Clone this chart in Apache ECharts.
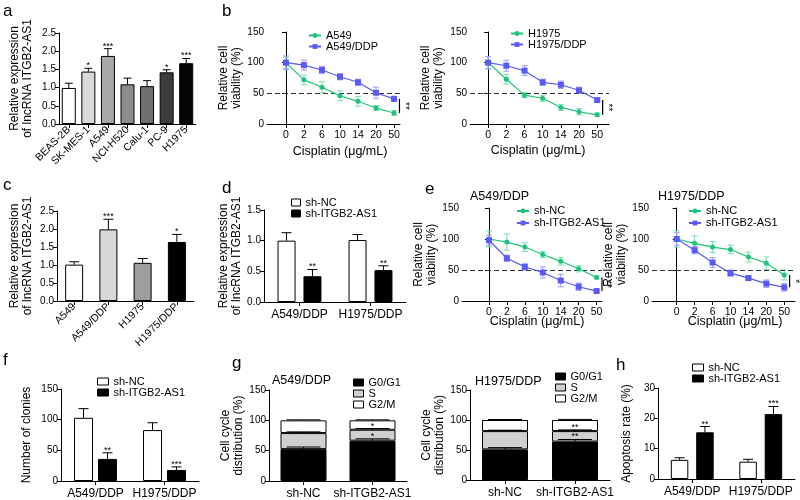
<!DOCTYPE html>
<html><head><meta charset="utf-8">
<script src="https://cdn.jsdelivr.net/npm/echarts@6/dist/echarts.min.js"></script>
<style>html,body{margin:0;padding:0;background:#fff}#c{width:800px;height:500px}</style>
</head><body><div id="c"></div>
<script>
const FONT = '"Liberation Sans", Arial, sans-serif';
// ---------------- data ----------------
const aCats = ['BEAS-2B','SK-MES-1','A549','NCI-H520','Calu-1','PC-9','H1975'];
const aVals = [0.99,1.44,1.87,1.09,1.04,1.42,1.67];
const aErr  = [0.13,0.09,0.20,0.17,0.15,0.07,0.13];
const aSig  = ['','*','***','','','*','***'];

const doses = ['0','2','6','10','14','20','50'];
const bA549    = [100,72,60,46,37,26,18];
const bA549Err = [9,8,9,8,8,4,4];
const bA549DDP    = [100,96,88,77,68,51,41];
const bA549DDPErr = [11,8,6,5,5,9,4];
const bH1975    = [100,73,47,42,27,20,15];
const bH1975Err = [10,8,4,5,5,5,3];
const bH1975DDP    = [100,95,87,68,64,55,39];
const bH1975DDPErr = [10,9,8,5,6,5,3];

const cCats = ['A549','A549/DDP','H1975','H1975/DDP'];
const cVals = [1.01,1.99,1.06,1.64];
const cErr  = [0.08,0.28,0.12,0.21];
const cSig  = ['','***','','*'];

const ddpCats = ['A549/DDP','H1975/DDP'];
const dNC = [1.00,1.01], dNCErr = [0.13,0.09];
const dSh = [0.42,0.52], dShErr = [0.11,0.07];
const dSig = ['**','**'];

const eA_NC = [100,95,87,75,64,52,38], eA_NCErr = [13,13,7,5,6,5,2];
const eA_Sh = [98,69,55,46,33,23,16],  eA_ShErr = [8,5,5,9,10,6,2];
const eH_NC = [100,93,87,83,71,61,42], eH_NCErr = [13,12,9,7,8,10,8];
const eH_Sh = [100,82,62,45,37,28,22], eH_ShErr = [10,6,8,5,3,6,6];

const fNC = [103,83], fNCErr = [15,12];
const fSh = [36,18],  fShErr = [10,5];
const fSig = ['**','***'];

const gCats = ['sh-NC','sh-ITGB2-AS1'];
const gA_G0G1 = [52.5,66.5], gA_G0G1Err = [3.5,3];
const gA_S    = [26.5,18],   gA_SErr    = [2,2];
const gA_G2M  = [21,15.5],   gA_G2MErr  = [0.8,0.8];
const gA_Sig  = ['','*'];
const gH_G0G1 = [51,64],     gH_G0G1Err = [3,3.5];
const gH_S    = [30.5,17.5], gH_SErr    = [1.5,2];
const gH_G2M  = [18.5,18.5], gH_G2MErr  = [0.8,1];
const gH_Sig  = ['','**'];

const hNC = [6.3,5.7],  hNCErr = [0.7,0.8];
const hSh = [15.4,21.4], hShErr = [1.9,2.5];
const hSig = ['**','***'];

// ---------------- styles ----------------
const BLACK = '#000';
const GREEN = '#1fc47a', GREEN_E = '#78deb0';
const BLUE = '#5a5af6', BLUE_E = '#9c9cff';
const aColors = ['#ffffff','#d9d9d9','#a8a8a8','#8c8c8c','#707070','#3c3c3c','#050505'];
const cColors = ['#ffffff','#d8d8d8','#9e9e9e','#000000'];
const S_GRAY = '#d0d0d0';

const grids=[], xAxis=[], yAxis=[], series=[], legend=[], graphic=[];
const axisLine = {show:true, lineStyle:{color:BLACK, width:1}};
const axisTick = {show:true, length:4, lineStyle:{color:BLACK, width:1}};

function grid(l,t,w,h){ grids.push({left:l, top:t, width:w, height:h}); return grids.length-1; }
function yAx(g,max,interval,dec,name,gap){
  yAxis.push({type:'value', gridIndex:g, min:0, max, interval, axisLine, axisTick, splitLine:{show:false},
    axisLabel:{fontFamily:FONT, fontSize:10, color:BLACK, margin:3, formatter:v=>v.toFixed(dec)},
    name, nameLocation:'middle', nameRotate:90, nameGap:gap,
    nameTextStyle:{fontFamily:FONT, fontSize:12, color:BLACK, lineHeight:13}});
  return yAxis.length-1;
}
function catAx(g,cats,label){
  xAxis.push({type:'category', gridIndex:g, data:cats, axisLine,
    axisTick:Object.assign({alignWithLabel:true}, axisTick),
    axisLabel:Object.assign({fontFamily:FONT, fontSize:12, color:BLACK, margin:7, interval:0}, label||{})});
  return xAxis.length-1;
}
function doseAx(g,min,max){
  const idx = doses.map((d,i)=>i);
  xAxis.push({type:'value', gridIndex:g, min, max, axisLine, splitLine:{show:false},
    axisTick:Object.assign({customValues:idx}, axisTick),
    axisLabel:{customValues:idx, formatter:v=>doses[Math.round(v)], fontFamily:FONT, fontSize:10.5, color:BLACK, margin:6}});
  return xAxis.length-1;
}
function errBars(xi,yi,vals,errs,opt){
  return {type:'custom', xAxisIndex:xi, yAxisIndex:yi, silent:true, z:opt.z||10, encode:{x:0,y:1},
    data: vals.map((v,i)=>[i,v,errs[i]]),
    renderItem:(p,api)=>{
      const i=api.value(0), v=api.value(1), e=api.value(2);
      const c=api.coord([i,v]), t=api.coord([i,v+e]), b=api.coord([i,v-e]);
      const x=c[0]+(opt.offset||0), hw=opt.cap/2;
      const st={stroke:opt.color||BLACK, lineWidth:opt.lw||1};
      const ch=[{type:'line', shape:{x1:x,y1:opt.both?b[1]:c[1],x2:x,y2:t[1]}, style:st},
                {type:'line', shape:{x1:x-hw,y1:t[1],x2:x+hw,y2:t[1]}, style:st}];
      if(opt.both) ch.push({type:'line', shape:{x1:x-hw,y1:b[1],x2:x+hw,y2:b[1]}, style:st});
      const s=opt.stars && opt.stars[p.dataIndex];
      if(s) ch.push({type:'text', x:x, y:t[1]+2, style:{text:s, align:'center', verticalAlign:'bottom', fontSize:opt.starSize||10, fontFamily:FONT, fill:BLACK}});
      return {type:'group', children:ch};
    }};
}
function bracket(xi,yi,a,b,stars){
  const last=doses.length-1;
  return {type:'custom', xAxisIndex:xi, yAxisIndex:yi, silent:true, z:12, encode:{x:0,y:1},
    data:[[last+0.3, a[last], b[last]]],
    renderItem:(p,api)=>{
      const p1=api.coord([api.value(0),api.value(1)]), p2=api.coord([api.value(0),api.value(2)]);
      return {type:'group', children:[
        {type:'line', shape:{x1:p1[0],y1:p1[1],x2:p2[0],y2:p2[1]}, style:{stroke:BLACK, lineWidth:1.2}},
        {type:'text', x:p1[0]+5, y:(p1[1]+p2[1])/2, rotation:-Math.PI/2,
          style:{text:stars, align:'center', verticalAlign:'middle', fontSize:10, fontFamily:FONT, fill:BLACK}}]};
    }};
}
function txt(x,y,t,size,align){
  graphic.push({type:'text', x, y, style:{text:t, fontSize:size, fontFamily:FONT, fill:BLACK, align:align||'left', verticalAlign:'middle'}});
}
function lineLegend(left,top,lh,names){
  legend.push({orient:'vertical', left, top, padding:0, itemGap:0, itemWidth:12, itemHeight:6, selectedMode:false,
    data:names, formatter:n=>n.split('|')[1], textStyle:{fontFamily:FONT, fontSize:11, color:BLACK, lineHeight:lh}});
}
function barLegend(left,top,lh,iw,names,colors){
  legend.push({orient:'vertical', left, top, padding:0, itemGap:0, itemWidth:iw, itemHeight:7, selectedMode:false,
    data:names.map((n,i)=>({name:n, icon:'rect', itemStyle:{color:colors[i], borderColor:BLACK, borderWidth:1}})),
    formatter:n=>n.split('|')[1], textStyle:{fontFamily:FONT, fontSize:11, color:BLACK, lineHeight:lh}});
}
function linePanel(key,box,xmin,xmax,gap,s1,s2,legendPos,stars){
  const g=grid(...box), xi=doseAx(g,xmin,xmax);
  const yi=yAx(g,150,50,0,'Relative cell\nviability (%)',gap);
  series.push(errBars(xi,yi,s1.v,s1.e,{cap:6,both:true,color:GREEN_E,z:3}));
  series.push(errBars(xi,yi,s2.v,s2.e,{cap:6,both:true,color:BLUE_E,z:3}));
  series.push({type:'line', name:key+'|'+s1.n, xAxisIndex:xi, yAxisIndex:yi, z:5,
    data:s1.v.map((v,i)=>[i,v]), symbol:'circle', symbolSize:5,
    itemStyle:{color:GREEN}, lineStyle:{color:GREEN, width:1.2},
    markLine:{silent:true, symbol:'none', label:{show:false}, animation:false,
      lineStyle:{type:[5,3], color:'#333', width:1.2}, data:[{yAxis:50}]}});
  series.push({type:'line', name:key+'|'+s2.n, xAxisIndex:xi, yAxisIndex:yi, z:6,
    data:s2.v.map((v,i)=>[i,v]), symbol:'rect', symbolSize:6,
    itemStyle:{color:BLUE}, lineStyle:{color:BLUE, width:1.2}});
  series.push(bracket(xi,yi,s1.v,s2.v,stars));
  lineLegend(legendPos[0],legendPos[1],legendPos[2],[key+'|'+s1.n,key+'|'+s2.n]);
}
function groupPanel(key,box,ymax,yint,dec,yname,gap,bw,gapPct,nc,ncE,sh,shE,sig,legendPos,cap){
  const g=grid(...box), xi=catAx(g,ddpCats);
  const yi=yAx(g,ymax,yint,dec,yname,gap);
  const off=bw*(1+gapPct/100)/2;
  series.push({type:'bar', name:key+'|sh-NC', xAxisIndex:xi, yAxisIndex:yi, barWidth:bw, barGap:gapPct+'%',
    data:nc, itemStyle:{color:'#fff', borderColor:BLACK, borderWidth:1}});
  series.push({type:'bar', name:key+'|sh-ITGB2-AS1', xAxisIndex:xi, yAxisIndex:yi, barWidth:bw, barGap:gapPct+'%',
    data:sh, itemStyle:{color:'#000', borderColor:BLACK, borderWidth:1}});
  series.push(errBars(xi,yi,nc,ncE,{cap,offset:-off}));
  series.push(errBars(xi,yi,sh,shE,{cap,offset:off,stars:sig,starSize:9}));
  barLegend(legendPos[0],legendPos[1],legendPos[2],legendPos[3],[key+'|sh-NC',key+'|sh-ITGB2-AS1'],['#fff','#000']);
}
function stackPanel(key,box,gap,g0,g0e,s,se,g2,g2e,sig,legendPos){
  const g=grid(...box), xi=catAx(g,gCats);
  const yi=yAx(g,150,50,0,'Cell cycle\ndistribution (%)',gap);
  const names=[key+'|G0/G1',key+'|S',key+'|G2/M'], cols=['#000',S_GRAY,'#fff'];
  [g0,s,g2].forEach((d,k)=>series.push({type:'bar', name:names[k], stack:key, xAxisIndex:xi, yAxisIndex:yi,
    barWidth:46, data:d, itemStyle:{color:cols[k], borderColor:BLACK, borderWidth:1}}));
  const top1=g0, top2=g0.map((v,i)=>v+s[i]), top3=top2.map((v,i)=>v+g2[i]);
  series.push(errBars(xi,yi,top1,g0e,{cap:34,stars:sig,starSize:9}));
  series.push(errBars(xi,yi,top2,se,{cap:34,stars:sig,starSize:9}));
  series.push(errBars(xi,yi,top3,g2e,{cap:34}));
  barLegend(legendPos[0],legendPos[1],legendPos[2],10,names,cols);
}

// ---------------- panel a ----------------
{
  const g=grid(59,33,137,91);
  const xi=catAx(g,aCats,{rotate:45, fontSize:10.5, margin:4});
  const yi=yAx(g,2.5,0.5,1,'Relative expression\nof lncRNA ITGB2-AS1',25);
  series.push({type:'bar', name:'a|expr', xAxisIndex:xi, yAxisIndex:yi, barWidth:14,
    data:aVals.map((v,i)=>({value:v, itemStyle:{color:aColors[i]}})), itemStyle:{borderColor:BLACK, borderWidth:1}});
  series.push(errBars(xi,yi,aVals,aErr,{cap:8,stars:aSig,starSize:9}));
}
// ---------------- panel b ----------------
linePanel('b1',[267,32,133,92],-1.05,6.33,21,{n:'A549',v:bA549,e:bA549Err},{n:'A549/DDP',v:bA549DDP,e:bA549DDPErr},[308,30,10],'**');
linePanel('b2',[470,32,139,92],-1,6.65,25,{n:'H1975',v:bH1975,e:bH1975Err},{n:'H1975/DDP',v:bH1975DDP,e:bH1975DDPErr},[510,28,10],'**');
// ---------------- panel c ----------------
{
  const g=grid(57,211,137,90);
  const xi=catAx(g,cCats,{rotate:45, fontSize:10.5, margin:4});
  const yi=yAx(g,2.5,0.5,1,'Relative expression\nof lncRNA ITGB2-AS1',23);
  series.push({type:'bar', name:'c|expr', xAxisIndex:xi, yAxisIndex:yi, barWidth:18,
    data:cVals.map((v,i)=>({value:v, itemStyle:{color:cColors[i]}})), itemStyle:{borderColor:BLACK, borderWidth:1}});
  series.push(errBars(xi,yi,cVals,cErr,{cap:10,stars:cSig,starSize:9}));
}
// ---------------- panel d ----------------
groupPanel('d',[264,210,142,92],1.5,0.5,1,'Relative expression\nof lncRNA ITGB2-AS1',20,18,44,dNC,dNCErr,dSh,dShErr,dSig,[291,197,10.5,9],10);
// ---------------- panel e ----------------
linePanel('e1',[462,208,140,93],-1.5,6.3,20,{n:'sh-NC',v:eA_NC,e:eA_NCErr},{n:'sh-ITGB2-AS1',v:eA_Sh,e:eA_ShErr},[516,205,12],'**');
linePanel('e2',[652,208,143,93],-1.38,6.6,20,{n:'sh-NC',v:eH_NC,e:eH_NCErr},{n:'sh-ITGB2-AS1',v:eH_Sh,e:eH_ShErr},[688,205,12],'*');
// ---------------- panel f ----------------
groupPanel('f',[61,389,138,93],150,50,0,'Number of clonies',28,19,26,fNC,fNCErr,fSh,fShErr,fSig,[97,376,10.7,11],10);
// ---------------- panel g ----------------
stackPanel('g1',[269,390,138,91],19,gA_G0G1,gA_G0G1Err,gA_S,gA_SErr,gA_G2M,gA_G2MErr,gA_Sig,[353,377,10]);
stackPanel('g2',[470,390,140,90],23,gH_G0G1,gH_G0G1Err,gH_S,gH_SErr,gH_G2M,gH_G2MErr,gH_Sig,[555,371,10.3]);
// ---------------- panel h ----------------
groupPanel('h',[658,388,137,91],30,10,0,'Apoptosis rate (%)',25,17.5,45,hNC,hNCErr,hSh,hShErr,hSig,[692,362,10,11],10);

// ---------------- texts ----------------
[['a',3,11],['b',222,11],['c',3,185],['d',222,188],['e',425,189],['f',3,360],['g',232,363],['h',616,365]]
  .forEach(t=>txt(t[1],t[2],t[0],17));
txt(470,197,'A549/DDP',12.5); txt(658,197,'H1975/DDP',12.5);
txt(272,381,'A549/DDP',12.5); txt(475,382,'H1975/DDP',12.5);
txt(340,152,'Cisplatin (μg/mL)',12.5,'center'); txt(538,151,'Cisplatin (μg/mL)',12.5,'center');
txt(537,322,'Cisplatin (μg/mL)',12.5,'center'); txt(735,322,'Cisplatin (μg/mL)',12.5,'center');

const chart = echarts.init(document.getElementById('c'), null, {renderer:'canvas'});
chart.setOption({animation:false, backgroundColor:'#fff', textStyle:{fontFamily:FONT},
  grid:grids, xAxis, yAxis, series, legend, graphic});
</script>
</body></html>
